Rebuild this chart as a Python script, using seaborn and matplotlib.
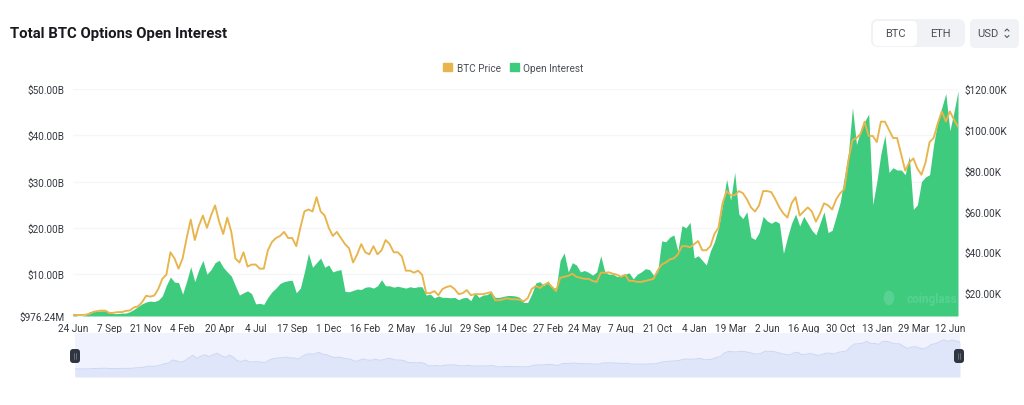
import matplotlib
matplotlib.use("Agg")
import matplotlib.pyplot as plt
from matplotlib.patches import FancyBboxPatch, Patch, Ellipse
import seaborn as sns
import pandas as pd
import numpy as np

tick_labels = ["24 Jun","7 Sep","21 Nov","4 Feb","20 Apr","4 Jul","17 Sep","1 Dec","16 Feb","2 May",
               "16 Jul","29 Sep","14 Dec","27 Feb","24 May","7 Aug","21 Oct","4 Jan","19 Mar","2 Jun",
               "16 Aug","30 Oct","13 Jan","29 Mar","12 Jun"]
left_labels = ["$976.24M","$10.00B","$20.00B","$30.00B","$40.00B","$50.00B"]
left_ticks = [0.97624,10,20,30,40,50]
right_labels = ["$20.00K","$40.00K","$60.00K","$80.00K","$100.00K","$120.00K"]
right_ticks = [20,40,60,80,100,120]

# BTC price in thousand USD, nine readings per tick interval
btc_price = [
 9.3,9.3,9.3,9.4,9.8,10.8,11.2,11.5,11.4,
 10.2,10.4,10.7,10.7,11.3,11.5,13,13.5,15.5,
 18.7,18.3,18.8,22,27,29,40,37,32,
 37,47,56,46,53,58,52,58,63,
 55,49,57,50,37,35,40,33,34,
 34,32,32,41,45,47,48,50,47,
 47,43,52,60,61,60,67,60,58,
 52,48,50,47,44,42,35,39,44,
 40,39,43,39,41,46,44,40,40,
 38,31,31,30,31,29,20,20,21,
 19,22,23,23.5,22,19.5,20,21.5,19,
 19.5,19.5,19.5,20,20.5,16.5,16.5,17,17.5,
 17,17,16.8,16,17.5,22,23.5,22.5,24,
 25,23,21,27.5,28,28.5,29.5,28,27.5,
 27,27,26,25.5,30,30,30.2,29.5,29,
 28,29,26,26,25.5,25.5,26,26.5,27,
 31,34,35,36.5,37,39,43,43,42.5,
 44,45.5,41,41,43,49,52,64,70,
 68,68,70,69,66,62,60,63,70,
 70,69.5,66,62,59,57,64,67,58,
 60,62,60,55,59,64,63,61,66,
 69,71,85,95,96,98,104,97,97,
 94,104,104,100,96,96,88,80,84,
 86,81,78,84,94,96,103,109,104,
 109,105,101.5]

# Options open interest in billion USD, same sampling
open_interest = [
 1.6,1.0,1.0,1.1,1.9,2.0,2.0,2.1,2.1,
 1.9,1.5,1.5,1.6,1.6,1.9,2.4,3.0,3.6,
 4.0,4.2,4.1,4.4,5.3,7.6,9.4,8.3,8.2,
 5.7,8.5,11.6,8.4,11,13,10,11,12.5,
 13,11.5,10.5,9.6,7.5,5.5,6,6.4,5.8,
 3.6,3.7,3.5,5,6.2,7,8,8.4,8.6,
 8.7,6,7,10.5,14.5,11.5,12.5,13.5,11.5,
 12,10.5,10.8,11,6.3,6.2,6.5,6.8,6.7,
 7.2,7.3,7,7.5,8.8,7.5,7.5,7.2,7.4,
 7.2,7,7.3,7.1,7.3,7.3,5.5,5.7,4.9,
 5.3,5,5,4.9,5,4.5,4.9,5,4.3,
 6,5,5.5,5.6,6.2,5,5,5.2,5.4,
 5.4,5.3,5,3.9,3.9,5.7,8.1,8.4,7.5,
 8.6,7.2,7,13,14.6,10.5,12.5,12,10.5,
 10.8,10.4,9.8,10.5,14,10.5,10,10,9.5,
 9.7,10,10.3,9,10,10.5,11.2,11,9.8,
 10.5,17.2,17,18,18.5,15,20.5,20,21.2,
 13.5,14,13,12,15,17,20,25,30.5,
 26,32,23,22,23.5,18,17.5,19,22.5,
 21.5,21,21.5,21,14.5,18,21,23,20.4,
 22.5,21,19.5,18.5,21,23.5,19,19.5,22.5,
 25.6,31,36,46,38,41,43,44.6,25,
 30,36,40,32,33,32.5,32.5,31.5,35.5,
 24,25,30,31,31.5,38,43,46,49,
 41,45,49.6]

GREEN = "#3ecb7e"
GOLD = "#e8b44c"
TXT = "#34383f"

sns.set_theme(style="white")
plt.rcParams["font.family"] = ["Roboto", "DejaVu Sans"]

W, H = 1024, 406
fig = plt.figure(figsize=(W/100, H/100), dpi=100, facecolor="white")

def rect(x0, y0, x1, y1):
    return [x0/W, 1-y1/H, (x1-x0)/W, (y1-y0)/H]

df = pd.DataFrame({"idx": np.arange(len(btc_price)), "price": btc_price, "oi": open_interest})

ax = fig.add_axes(rect(73, 90, 958, 317))
ax.set_facecolor("white")
ax.set_xlim(0, len(btc_price)-1)
ax.set_ylim(0.97624, 50)
ax.fill_between(df["idx"], 0.97624, df["oi"], color=GREEN, lw=0, zorder=2)
ax.set_yticks(left_ticks)
ax.set_yticklabels(left_labels, fontsize=7.2, color=TXT)
ax.set_xticks(np.arange(len(tick_labels))*9)
ax.set_xticklabels(tick_labels, fontsize=7.2, color=TXT)
ax.tick_params(axis="both", length=0)
ax.tick_params(axis="x", pad=5)
ax.tick_params(axis="y", pad=6)
ax.grid(axis="y", color="#f5f6f7", lw=1, zorder=0)
ax.set_axisbelow(True)
for s in ax.spines.values():
    s.set_visible(False)

ax2 = ax.twinx()
sns.lineplot(data=df, x="idx", y="price", ax=ax2, color=GOLD, lw=1.35, estimator=None, zorder=3)
ax2.set_ylim(8.8, 119.6)
ax2.set_xlim(0, len(btc_price)-1)
ax2.set_ylabel("")
ax2.set_xlabel("")
ax.set_xlabel("")
ax2.set_yticks(right_ticks)
ax2.set_yticklabels(right_labels, fontsize=7.2, color=TXT)
ax2.tick_params(axis="y", length=0, pad=5)
ax2.grid(False)
for s in ax2.spines.values():
    s.set_visible(False)

ax2.text(0.999, 0.078, "coinglass", transform=ax2.transAxes, ha="right", va="center",
         fontsize=8.5, fontweight="bold", color="#58d193", zorder=4)
ax2.add_patch(Ellipse((0.922, 0.08), 0.012, 0.065, transform=ax2.transAxes,
                      fc="#58d193", ec="none", zorder=4))

# title
fig.text(10/W, 1-34/H, "Total BTC Options Open Interest", fontsize=10.7, fontweight="bold",
         color="#17191d", va="center", ha="left")

# legend
fig.legend(handles=[Patch(color=GOLD, label="BTC Price"), Patch(color=GREEN, label="Open Interest")],
           loc="center", bbox_to_anchor=(513.5/W, 1-68.5/H), ncol=2, frameon=False, fontsize=7.2,
           handlelength=0.9, handleheight=0.9, handletextpad=0.45, columnspacing=0.9,
           labelcolor="#4a4e55")

# selector buttons
bg = fig.add_axes([0, 0, 1, 1], zorder=5)
bg.set_xlim(0, W)
bg.set_ylim(H, 0)
bg.axis("off")
bg.patch.set_alpha(0)
def pill(x0, y0, x1, y1, fc, r=5):
    bg.add_patch(FancyBboxPatch((x0+r, y0+r), x1-x0-2*r, y1-y0-2*r,
                                boxstyle=f"round,pad={r},rounding_size={r}", fc=fc, ec="none"))
pill(871, 20, 965, 48, "#f1f2f5", 7)
pill(873, 22, 917, 47, "#ffffff", 5)
pill(970, 20, 1019, 49, "#f1f2f5", 5)
bg.text(895, 34, "BTC", ha="center", va="center", fontsize=8, color="#4a4e55")
bg.text(940, 34, "ETH", ha="center", va="center", fontsize=8, color="#4a4e55")
bg.text(988, 34, "USD", ha="center", va="center", fontsize=8, color="#4a4e55")
bg.plot([1005, 1007, 1009], [32, 30, 32], color="#555a62", lw=0.8)
bg.plot([1005, 1007, 1009], [36.5, 38.5, 36.5], color="#555a62", lw=0.8)

# navigator strip
nav = fig.add_axes(rect(75, 334, 960, 378), zorder=1)
nav.set_facecolor("#f0f3fd")
nav.set_xlim(0, len(btc_price)-1)
nav.set_ylim(-18.6, 133)
nav.fill_between(df["idx"], -18.6, df["price"], color="#dfe6fa", lw=0)
sns.lineplot(data=df, x="idx", y="price", ax=nav, color="#ccd6f3", lw=0.7, estimator=None)
nav.set_xticks([])
nav.set_yticks([])
nav.set_xlabel("")
nav.set_ylabel("")
for s in nav.spines.values():
    s.set_visible(False)
for hx in (75, 959):
    pill(hx-5, 350, hx+5, 364, "#2f3541", 3)
    bg.plot([hx-1, hx-1], [354, 360], color="#7d8390", lw=0.5)
    bg.plot([hx+1, hx+1], [354, 360], color="#7d8390", lw=0.5)

fig.savefig("out.png", dpi=100)
